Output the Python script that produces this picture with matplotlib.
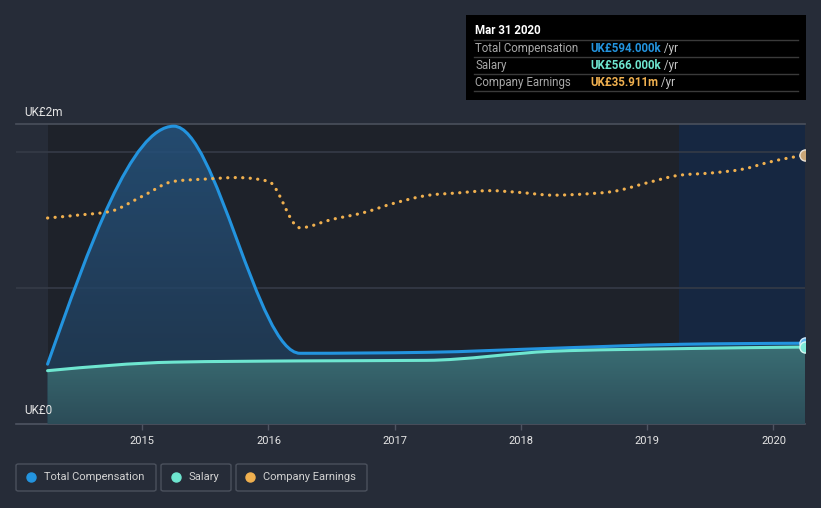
import numpy as np
import matplotlib
matplotlib.use("Agg")
import matplotlib.pyplot as plt
from matplotlib.path import Path
from matplotlib.patches import PathPatch, Rectangle, FancyBboxPatch
from matplotlib.lines import Line2D

# ---------------- data ----------------
dates_annual = [2014.25, 2015.25, 2016.25, 2017.25, 2018.25, 2019.25, 2020.25]
comp_y = [0.44, 2.19, 0.52, 0.527, 0.557, 0.586, 0.594]      # UK£ m
sal_y = [0.392, 0.455, 0.464, 0.468, 0.535, 0.554, 0.566]    # UK£ m

earn_x = [2014.25, 2014.5, 2014.75, 2015.0, 2015.25, 2015.5, 2015.75, 2016.0, 2016.25,
          2016.5, 2016.75, 2017.0, 2017.25, 2017.5, 2017.75, 2018.0, 2018.25, 2018.5,
          2018.75, 2019.0, 2019.25, 2019.5, 2019.75, 2020.0, 2020.25]
earn_y = [27.5, 27.9, 28.4, 30.4, 32.4, 32.7, 32.9, 32.4, 26.2,
          27.3, 28.2, 29.5, 30.5, 30.85, 31.15, 30.9, 30.55, 30.7,
          31.1, 32.2, 33.2, 33.5, 34.0, 35.1, 35.911]   # UK£ m

year_ticks = [2015, 2016, 2017, 2018, 2019, 2020]
tooltip_title = "Mar 31 2020"
tooltip_rows = [("Total Compensation", "UK£594.000k", " /yr"),
                ("Salary", "UK£566.000k", " /yr"),
                ("Company Earnings", "UK£35.911m", " /yr")]
legend_labels = ["Total Compensation", "Salary", "Company Earnings"]

# ---------------- styles ----------------
BG = "#262c38"
PLOT_BG = "#1e222a"
FC_BG = "#162741"
C_COMP = "#2394df"
C_SAL = "#6ee6d0"
C_EARN = "#f0b04f"
GRID = "#353b47"
TXT = "#e6e6e6"
plt.rcParams["font.family"] = ["Roboto", "DejaVu Sans"]


def monotone_slopes(x, y):
    x = np.asarray(x, float); y = np.asarray(y, float)
    n = len(x); m = np.zeros(n)
    for k in range(1, n - 1):
        h0 = x[k] - x[k - 1]; h1 = x[k + 1] - x[k]
        s0 = (y[k] - y[k - 1]) / h0; s1 = (y[k + 1] - y[k]) / h1
        p = (s0 * h1 + s1 * h0) / (h0 + h1)
        m[k] = (np.sign(s0) + np.sign(s1)) * min(abs(s0), abs(s1), 0.5 * abs(p))
    h = x[1] - x[0]
    m[0] = (3 * (y[1] - y[0]) / h - m[1]) / 2
    h = x[-1] - x[-2]
    m[-1] = (3 * (y[-1] - y[-2]) / h - m[-2]) / 2
    return m


def smooth_path(x, y, close_to=None):
    x = np.asarray(x, float); y = np.asarray(y, float)
    m = monotone_slopes(x, y)
    verts = [(x[0], y[0])]; codes = [Path.MOVETO]
    for i in range(len(x) - 1):
        h = x[i + 1] - x[i]
        verts += [(x[i] + h / 3, y[i] + m[i] * h / 3),
                  (x[i + 1] - h / 3, y[i + 1] - m[i + 1] * h / 3),
                  (x[i + 1], y[i + 1])]
        codes += [Path.CURVE4] * 3
    if close_to is not None:
        verts += [(x[-1], close_to), (x[0], close_to), (x[0], y[0])]
        codes += [Path.LINETO, Path.LINETO, Path.CLOSEPOLY]
    return Path(verts, codes)


fig = plt.figure(figsize=(8.21, 5.08), dpi=100, facecolor=BG)
W, H = 821, 508
ax = fig.add_axes([16 / W, 1 - 424 / H, (805 - 16) / W, 300 / H])
ax.set_facecolor(BG)
ax.set_xlim(2014.0, 2020.25)
ax.set_ylim(0, 2.206)

ax.axvspan(2014.25, 2019.25, color=PLOT_BG, zorder=0, lw=0)
ax.axvspan(2019.25, 2020.25, color=FC_BG, zorder=0, lw=0)

for g in [1.0, 2.0]:
    ax.axhline(g, color=GRID, lw=1.2, zorder=1)


def gradient_fill(path, top_col, bot_col, alpha_top, alpha_bot, ymax, z):
    patch = PathPatch(path, facecolor="none", edgecolor="none", transform=ax.transData)
    ax.add_patch(patch)
    n = 256
    grad = np.zeros((n, 1, 4))
    tc = np.array(matplotlib.colors.to_rgb(top_col)); bc = np.array(matplotlib.colors.to_rgb(bot_col))
    t = np.linspace(0, 1, n)[:, None]
    grad[:, 0, :3] = tc * (1 - t) + bc * t
    grad[:, 0, 3] = (alpha_top * (1 - t) + alpha_bot * t)[:, 0]
    im = ax.imshow(grad, extent=[2014.0, 2020.25, 0, ymax], aspect="auto",
                   origin="upper", zorder=z, interpolation="bilinear")
    im.set_clip_path(patch)


gradient_fill(smooth_path(dates_annual, comp_y, close_to=0), "#26537d", "#1f3a55", 0.85, 0.75, 2.2, 2)
gradient_fill(smooth_path(dates_annual, sal_y, close_to=0), "#3a6e74", "#2c4c58", 1.0, 1.0, 0.57, 3)

ax.add_patch(PathPatch(smooth_path(dates_annual, comp_y), facecolor="none", edgecolor=C_COMP,
                       lw=2.2, zorder=5, capstyle="round", joinstyle="round"))
ax.add_patch(PathPatch(smooth_path(dates_annual, sal_y), facecolor="none", edgecolor=C_SAL,
                       lw=2.2, zorder=6, capstyle="round", joinstyle="round"))
ax.plot([dates_annual[-1]], [comp_y[-1]], "o", ms=8, mfc="#5fb8ee", mec="#cfe9fb", mew=1, zorder=7)
ax.plot([dates_annual[-1]], [sal_y[-1]], "o", ms=8, mfc="#7fe8d8", mec="#d8f7f1", mew=1, zorder=8)

ax2 = ax.twinx()
ax2.set_ylim(0, 40.05)
ax2.set_xlim(2014.0, 2020.25)
for s in ax2.spines.values():
    s.set_visible(False)
ax2.set_yticks([])
ax2.add_patch(PathPatch(smooth_path(earn_x, earn_y), facecolor="none", edgecolor=C_EARN,
                        lw=2.3, linestyle=(0, (0.05, 2.3)), capstyle="round", zorder=5))
ax2.plot([earn_x[-1]], [earn_y[-1]], "o", ms=8, mfc="#c9a677", mec="#e8e0d4", mew=1, zorder=7)

for k in ["left", "right"]:
    ax.spines[k].set_visible(False)
ax.spines["top"].set_color("#4a505c")
ax.spines["top"].set_linewidth(1.2)
ax.spines["bottom"].set_color("#4e5461")
ax.spines["bottom"].set_linewidth(1.2)
ax.set_yticks([])
ax.set_xticks(year_ticks)
ax.set_xticklabels([str(y) for y in year_ticks])
ax.tick_params(axis="x", colors="#4e5461", length=4, width=1, pad=5, labelsize=8, labelcolor=TXT)

fig.text(24 / W, 1 - 112 / H, "UK£2m", color=TXT, fontsize=8.5, va="center", ha="left")
fig.text(24 / W, 1 - 411 / H, "UK£0", color=TXT, fontsize=8.5, va="center", ha="left")

fig.patches.append(Rectangle((466 / W, 1 - 100 / H), 340 / W, 85 / H, transform=fig.transFigure,
                             facecolor="#000000", edgecolor="none", zorder=10))
fig.text(475 / W, 1 - 31 / H, tooltip_title, color="#ffffff", fontsize=8.3, fontweight="bold",
         va="center", ha="left", zorder=11)
for yy in [40, 57, 74, 91]:
    fig.add_artist(Line2D([474 / W, 798 / W], [1 - yy / H, 1 - yy / H], color="#3a3a3a", lw=1,
                          transform=fig.transFigure, zorder=11))
val_cols = [C_COMP, C_SAL, C_EARN]
for i, (lab, val, unit) in enumerate(tooltip_rows):
    yc = 1 - (48.5 + 17 * i) / H
    fig.text(475 / W, yc, lab, color="#a8a8a8", fontsize=8.3, va="center", ha="left", zorder=11)
    t = fig.text(590 / W, yc, val, color=val_cols[i], fontsize=8.3, fontweight="bold",
                 va="center", ha="left", zorder=11)
    fig.canvas.draw()
    bb = t.get_window_extent()
    fig.text(bb.x1 / W, yc, unit, color="#c8c8c8", fontsize=8.3, va="center", ha="left", zorder=11)

boxes = [(16, 156), (161, 231), (236, 367)]
dot_x = [31, 176, 250]
txt_x = [44, 188, 263]
for (x0, x1), dx, tx, lab, col in zip(boxes, dot_x, txt_x, legend_labels, val_cols):
    fig.patches.append(FancyBboxPatch((x0 / W, 1 - 491 / H), (x1 - x0) / W, 27 / H,
                                      boxstyle="round,pad=0,rounding_size=0.003",
                                      transform=fig.transFigure, facecolor=BG,
                                      edgecolor="#4b515d", lw=1))
    fig.add_artist(Line2D([dx / W], [1 - 477 / H], marker="o", ms=6.5, color=col, lw=0,
                          transform=fig.transFigure))
    fig.text(tx / W, 1 - 477 / H, lab, color="#d2d2d2", fontsize=8.0, va="center", ha="left")

fig.savefig("out.png", dpi=100, facecolor=BG)
